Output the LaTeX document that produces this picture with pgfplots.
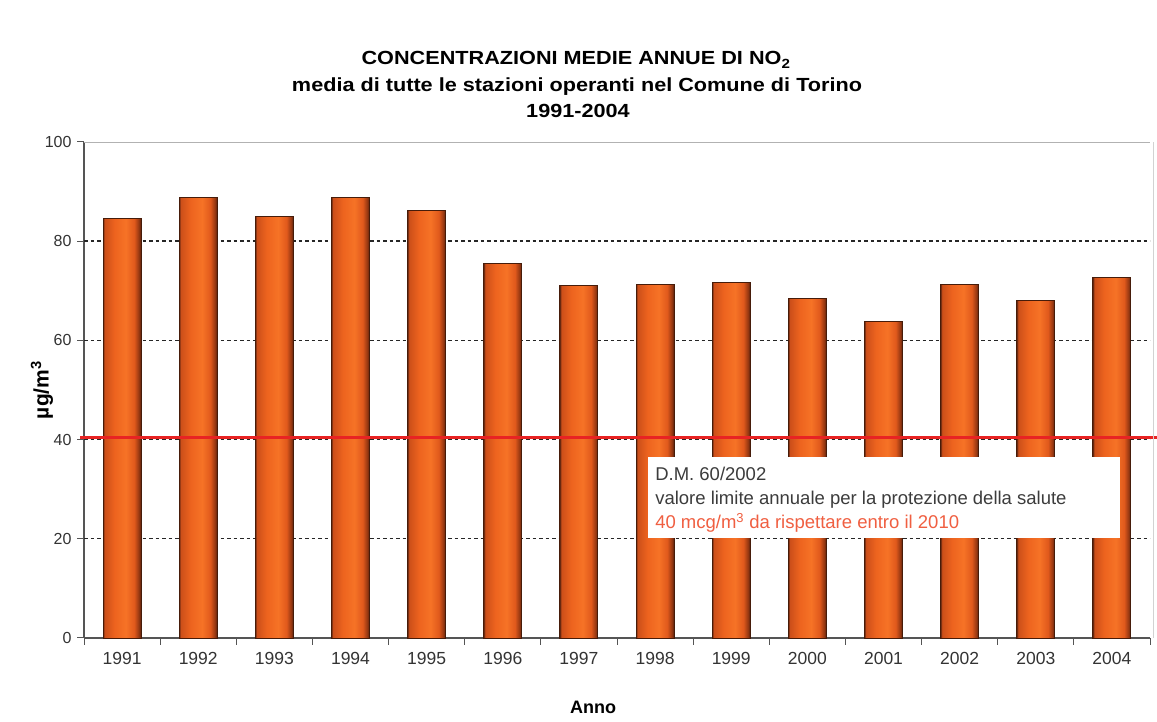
\documentclass[border=0pt]{standalone}
\usepackage{fontspec}
\setmainfont{Liberation Sans}
\newfontfamily\titlefont[FakeStretch=1.14]{Liberation Sans}
\usepackage{pgfplots}
\pgfplotsset{compat=1.18}
\definecolor{barEdge}{RGB}{70,28,10}
\definecolor{limred}{RGB}{232,35,35}
\definecolor{notered}{RGB}{240,95,65}
\definecolor{axgray}{RGB}{85,85,85}
\definecolor{txtgray}{RGB}{60,60,60}
\pgfdeclarehorizontalshading{barshade}{100bp}{
  rgb(0bp)=(0.39,0.15,0.06);
  rgb(25bp)=(0.39,0.15,0.06);
  rgb(27bp)=(0.80,0.31,0.10);
  rgb(40bp)=(0.93,0.39,0.12);
  rgb(55bp)=(0.965,0.45,0.15);
  rgb(66bp)=(0.88,0.35,0.11);
  rgb(72bp)=(0.59,0.22,0.07);
  rgb(75bp)=(0.35,0.13,0.05);
  rgb(100bp)=(0.35,0.13,0.05)}
\pgfplotsset{nbar/.style={ybar, bar width=38bp, draw=barEdge, line width=0.9bp,
  shade, shading=barshade}}
\begin{document}
\begin{tikzpicture}
\begin{axis}[
  at={(84bp,84bp)}, anchor=south west,
  scale only axis, width=1066bp, height=496bp,
  xmin=-0.5, xmax=13.5, ymin=0, ymax=100,
  clip=false,
  axis x line*=bottom, axis y line*=left,
  axis line style={axgray, line width=1.1bp, -},
  xtick={-0.5,0.5,...,13.5},
  x tick label as interval,
  xticklabels={1991,1992,1993,1994,1995,1996,1997,1998,1999,2000,2001,2002,2003,2004},
  ytick={0,20,40,60,80,100},
  extra y ticks={20,40,60,80},
  extra y tick labels={},
  extra y tick style={grid=major, major grid style={black!85, line width=1.4bp, dash pattern=on 3.5bp off 3bp}},
  tick align=outside,
  major tick length=7bp,
  tick style={axgray, line width=1bp},
  /pgf/number format/assume math mode=true,
  /pgf/number format/1000 sep={},
  ticklabel style={font=\fontsize{16bp}{19bp}\selectfont, text=black!80},
  xticklabel style={font=\fontsize{17.5bp}{19bp}\selectfont, yshift=-4bp},
  yticklabel style={xshift=-2bp},
]
\addplot[nbar] coordinates {(0,84.5)};
\addplot[nbar] coordinates {(1,88.9)};
\addplot[nbar] coordinates {(2,84.9)};
\addplot[nbar] coordinates {(3,88.9)};
\addplot[nbar] coordinates {(4,86.2)};
\addplot[nbar] coordinates {(5,75.6)};
\addplot[nbar] coordinates {(6,71.0)};
\addplot[nbar] coordinates {(7,71.2)};
\addplot[nbar] coordinates {(8,71.6)};
\addplot[nbar] coordinates {(9,68.5)};
\addplot[nbar] coordinates {(10,63.9)};
\addplot[nbar] coordinates {(11,71.2)};
\addplot[nbar] coordinates {(12,68.1)};
\addplot[nbar] coordinates {(13,72.6)};
\addplot[sharp plot, no marks, limred, line width=3.2bp]
  coordinates {(-0.55,40.4) (13.59,40.4)};
\draw[gray!60, line width=0.8bp] (axis cs:-0.5,100) -- (axis cs:13.5,100);
\draw[gray!35, line width=0.8bp] (axis cs:13.55,0) -- (axis cs:13.55,100);
\fill[white] (axis cs:6.91,36.5) rectangle (axis cs:13.11,20.2);
\node[anchor=north west, inner sep=0pt, align=left, text=txtgray,
  font=\fontsize{18.5bp}{24bp}\selectfont]
  at (axis cs:7.0,34.4) {D.M. 60/2002\\valore limite annuale per la protezione della salute\\\textcolor{notered}{40 mcg/m\textsuperscript{3} da rispettare entro il 2010}};
\end{axis}
\node[anchor=base, font=\titlefont\bfseries\fontsize{19bp}{22bp}\selectfont] at (576bp,657bp) {CONCENTRAZIONI MEDIE ANNUE DI NO\textsubscript{2}};
\node[anchor=base, font=\titlefont\bfseries\fontsize{19bp}{22bp}\selectfont] at (577bp,630bp) {media di tutte le stazioni operanti nel Comune di Torino};
\node[anchor=base, font=\titlefont\bfseries\fontsize{19bp}{22bp}\selectfont] at (578bp,604bp) {1991-2004};
\node[rotate=90, anchor=center, font=\bfseries\fontsize{21bp}{24bp}\selectfont] at (42bp,332bp) {µg/m\textsuperscript{3}};
\node[anchor=base, font=\bfseries\fontsize{18bp}{22bp}\selectfont] at (593bp,9bp) {Anno};
\pgfresetboundingbox
\path (0,0) rectangle (1157bp,722bp);
\end{tikzpicture}
\end{document}
